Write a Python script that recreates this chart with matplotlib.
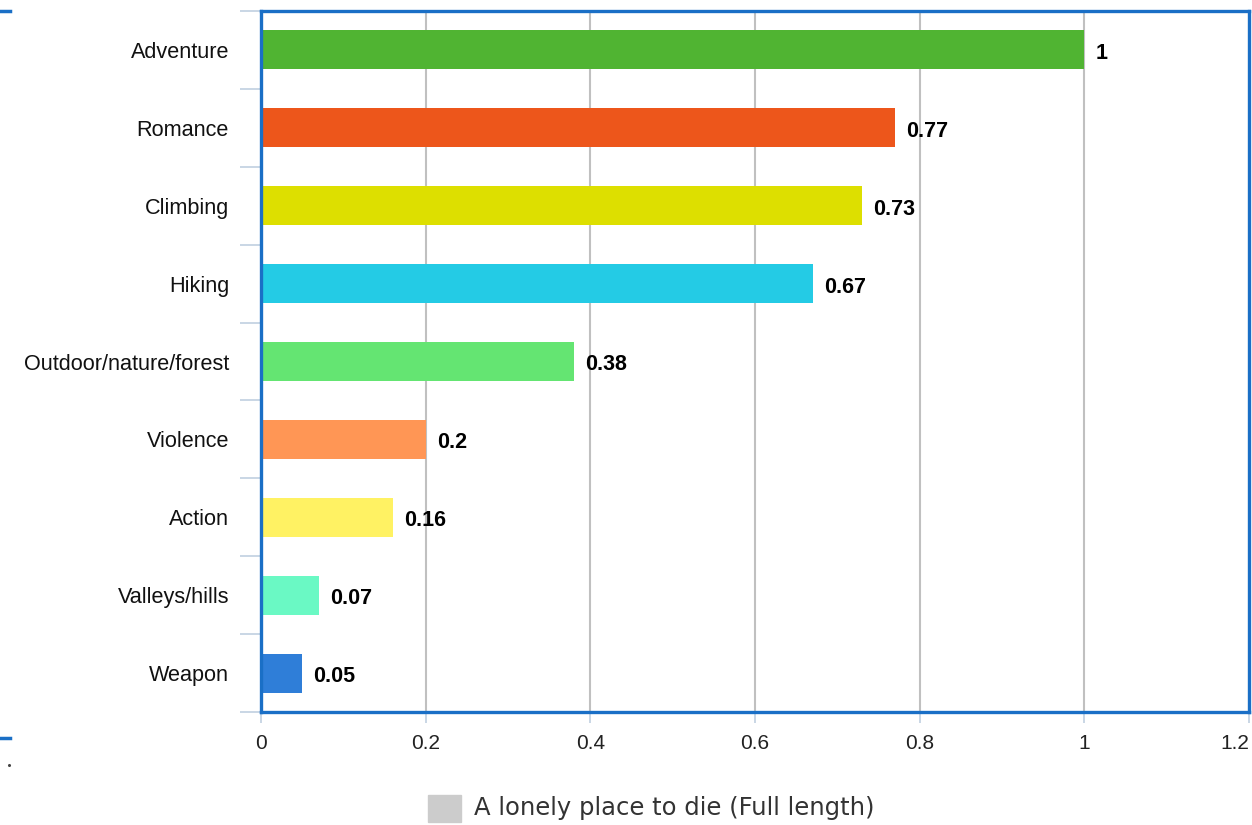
import matplotlib
matplotlib.use("Agg")
import matplotlib.pyplot as plt
import matplotlib.transforms as mtransforms
from matplotlib.patches import Rectangle
from matplotlib.lines import Line2D

categories = ["Adventure", "Romance", "Climbing", "Hiking", "Outdoor/nature/forest",
              "Violence", "Action", "Valleys/hills", "Weapon"]
values = [1, 0.77, 0.73, 0.67, 0.38, 0.2, 0.16, 0.07, 0.05]
value_labels = ["1", "0.77", "0.73", "0.67", "0.38", "0.2", "0.16", "0.07", "0.05"]
colors = ["#50B432", "#ED561B", "#DDDF00", "#24CBE5", "#64E572",
          "#FF9655", "#FFF263", "#6AF9C4", "#2F7ED8"]
x_ticks = [0, 0.2, 0.4, 0.6, 0.8, 1.0, 1.2]
x_tick_labels = ["0", "0.2", "0.4", "0.6", "0.8", "1", "1.2"]
series_name = "A lonely place to die (Full length)"

W, H = 1252, 825
fig = plt.figure(figsize=(W / 100, H / 100), dpi=100)
ax = fig.add_axes([261 / W, 1 - 712 / H, (1249 - 261) / W, (712 - 11) / H])

font = "Liberation Sans"
positions = list(range(len(categories)))
ax.barh(positions, values, height=0.5, color=colors, zorder=3)

for y, v, lab in zip(positions, values, value_labels):
    ax.annotate(lab, xy=(v, y), xytext=(8, -2.5), textcoords="offset points",
                va="center", ha="left", fontsize=15.5, fontweight="bold",
                family=font, color="black", zorder=4)

ax.set_xlim(0, 1.2)
ax.set_ylim(len(categories) - 0.5, -0.5)

ax.set_xticks(x_ticks)
ax.set_xticklabels(x_tick_labels, family=font, fontsize=15, color="#222222")
ax.get_xticklabels()[-1].set_horizontalalignment("right")
ax.tick_params(axis="x", which="major", length=8, width=1.2, color="#C0D0E0",
               direction="out", pad=8)

ax.set_yticks(positions)
ax.set_yticklabels(categories, family=font, fontsize=15.6, color="#111111")
shift = mtransforms.ScaledTranslation(0, -3.5 / 100, fig.dpi_scale_trans)
for t in ax.get_yticklabels():
    t.set_transform(t.get_transform() + shift)
ax.tick_params(axis="y", which="major", length=0, pad=23)
ax.set_yticks([p - 0.5 for p in positions] + [len(categories) - 0.5], minor=True)
ax.tick_params(axis="y", which="minor", length=15, width=1.2, color="#C0D0E0",
               direction="out")

ax.xaxis.grid(True, color="#C0C0C0", linewidth=1.5, zorder=0)
ax.set_axisbelow(True)

for s in ax.spines.values():
    s.set_color("#1A6FC6")
    s.set_linewidth(2.4)
    s.set_zorder(5)

# legend drawn below the plot area
fig.patches.append(Rectangle((428 / W, 1 - 822 / H), 33 / W, 27 / H,
                             transform=fig.transFigure, color="#CCCCCC"))
fig.text(474 / W, 1 - 808 / H, series_name, fontsize=17.5, family="DejaVu Sans",
         color="#333333", va="center", ha="left")

# small blue edge markers on the left
for yy in (10.5, 737.5):
    fig.lines.append(Line2D([0, 10 / W], [1 - yy / H, 1 - yy / H],
                            transform=fig.transFigure, color="#1A6FC6", linewidth=2.5))
fig.lines.append(Line2D([9 / W], [1 - 765 / H], transform=fig.transFigure,
                        marker="o", markersize=1.2, color="#444444", linestyle="none"))

fig.savefig("out.png", dpi=100)
